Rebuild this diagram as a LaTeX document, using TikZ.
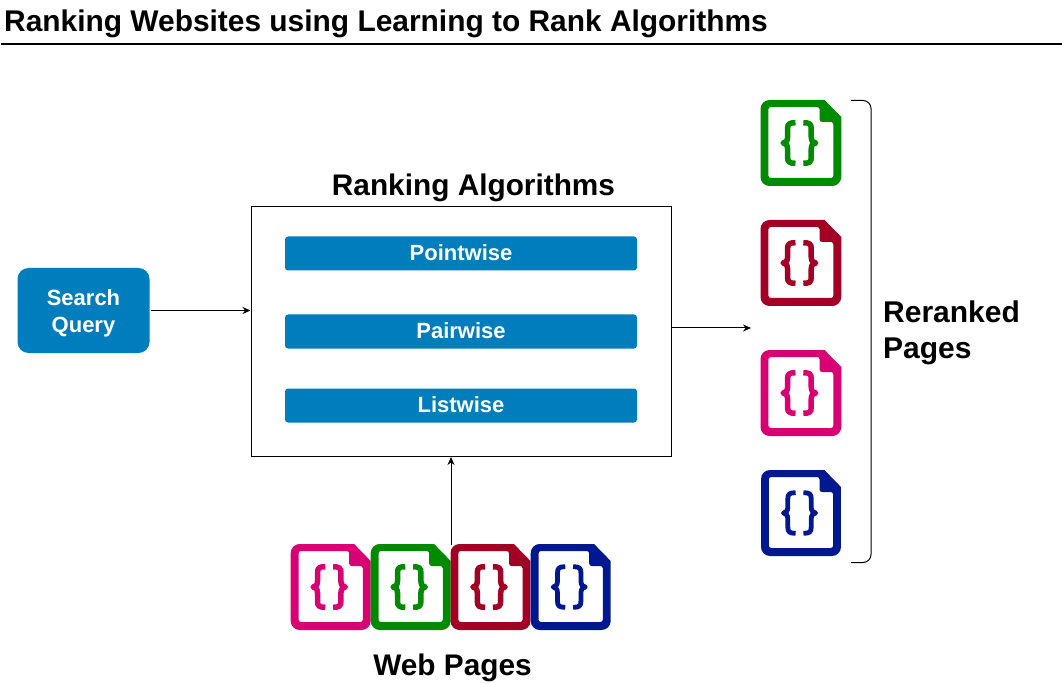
\documentclass[tikz,border=0pt]{standalone}
\usepackage{fontspec}
\setmainfont{Liberation Sans}
\usetikzlibrary{arrows.meta}
\definecolor{cgreen}{HTML}{008A00}
\definecolor{cred}{HTML}{A20025}
\definecolor{cpink}{HTML}{D80073}
\definecolor{cblue}{HTML}{00188F}
\definecolor{cbox}{HTML}{007DBC}
% x, y, colour, horizontal scale, brace stroke
\newcommand{\docicon}[5]{%
  \begin{scope}[shift={(#1,#2)},xscale=#4]
    \fill[#3,even odd rule]
      (65,0) [rounded corners=9] -- (0,0) -- (0,86) -- (82,86) [sharp corners] -- (82,17) -- cycle
      [rounded corners=2.5] (8,7) -- (60,7) -- (60,22) -- (74,22) -- (74,78) -- (8,78) -- cycle;
    \draw[#3,line width=#5,line join=round]
      (35.5,22.7) .. controls (29,22.7) and (27.5,24) .. (27.5,29) -- (27.5,37)
      .. controls (27.5,41) and (25.5,43) .. (23,43)
      .. controls (25.5,43) and (27.5,45) .. (27.5,49) -- (27.5,57)
      .. controls (27.5,62) and (29,63.3) .. (35.5,63.3);
    \draw[#3,line width=#5,line join=round]
      (43.5,22.7) .. controls (50,22.7) and (51.5,24) .. (51.5,29) -- (51.5,37)
      .. controls (51.5,41) and (53.5,43) .. (56,43)
      .. controls (53.5,43) and (51.5,45) .. (51.5,49) -- (51.5,57)
      .. controls (51.5,62) and (50,63.3) .. (43.5,63.3);
  \end{scope}}
\tikzset{
  x=1pt,y=-1pt,
  lbl/.style={font=\bfseries\fontsize{#1}{#1}\selectfont,inner sep=0pt,text=black},
  lbl/.default=30,
  bar/.style={fill=cbox,rounded corners=3,inner sep=0pt,minimum width=352,minimum height=34,
    text=white,font=\bfseries\fontsize{22}{22}\selectfont},
  query/.style={fill=cbox,rounded corners=11,inner sep=0pt,minimum width=132,minimum height=85,
    text=white,align=center,font=\bfseries\fontsize{22}{27}\selectfont},
  conn/.style={draw=black,line width=1,-{Stealth[length=8,width=7]}},
  thin line/.style={draw=black,line width=1}
}
\begin{document}
\begin{tikzpicture}
\useasboundingbox (0,0) rectangle (1062,684);
\fill[white] (0,0) rectangle (1062,684);
\node[lbl=29.9,anchor=base west] (title) at (4,31.4) {Ranking Websites using Learning to Rank Algorithms};
\coordinate (ruleL) at (1,44);
\coordinate (ruleR) at (1062,44);
\draw[line width=2] (ruleL) -- (ruleR);

\node[query] (query) at (83.5,310.5) {\raisebox{-8pt}[0pt][0pt]{Search}\\\raisebox{-8pt}[0pt][0pt]{Query}};
\node[draw=black,line width=1,minimum width=420,minimum height=250,inner sep=0pt] (algo) at (461,331.5) {};
\node[lbl=29.8,anchor=base] (algotitle) at (473.5,196) {Ranking Algorithms};
\node[bar] (point) at (461,253.5) {\raisebox{1pt}{Pointwise}};
\node[bar] (pair) at (461,331.5) {\raisebox{1pt}{Pairwise}};
\node[bar] (list) at (461,405.5) {\raisebox{1pt}{Listwise}};

\docicon{760.5}{100}{cgreen}{.985}{5.5}
\docicon{760.5}{220}{cred}{.985}{5.5}
\docicon{760.5}{350}{cpink}{.985}{5.5}
\docicon{761}{470}{cblue}{.975}{4.8}
\docicon{290.7}{544}{cpink}{.975}{5.5}
\docicon{370.7}{544}{cgreen}{.975}{5.5}
\docicon{450.5}{544}{cred}{.975}{5.5}
\docicon{530.7}{544}{cblue}{.975}{4.8}

\coordinate (webtop) at (451,545);
\coordinate (rerankin) at (751,328);
\draw[conn] (query.east |- 0,310.5) ++(1,0) -- (algo.west |- 0,310.5);
\draw[conn] (webtop) -- (algo.south -| webtop);
\draw[conn] (algo.east |- rerankin) -- (rerankin);

\coordinate (brT) at (851,100.5);
\coordinate (brB) at (851,562.5);
\draw[thin line,rounded corners=8] (brT) -- (871,100.5) -- (871,562.5) -- (brB);

\node[lbl=30,anchor=base west] (rerank) at (883,322.6) {Reranked};
\node[lbl=30,anchor=base west] (pages) at (883,358.4) {Pages};
\node[lbl=29.8,anchor=base] (web) at (452.5,675) {Web Pages};
\end{tikzpicture}
\end{document}
